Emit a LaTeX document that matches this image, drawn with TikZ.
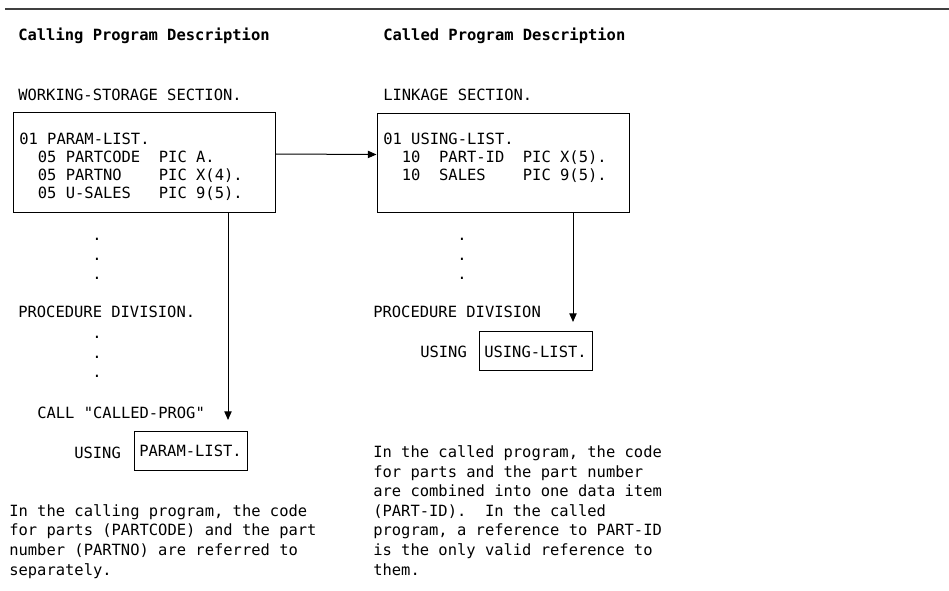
\documentclass[tikz,border=0pt]{standalone}
\usepackage{fontspec}
\setmonofont{DejaVu Sans Mono}
\usetikzlibrary{arrows.meta}
\newcommand\codefont{\ttfamily\fontsize{11.6}{13.7}\selectfont}
\newcommand\notefont{\ttfamily\fontsize{11.6}{14.7}\selectfont}
\begin{document}
\begin{tikzpicture}
  [x=0.75pt,y=-0.75pt,
   every node/.style={font=\codefont,inner sep=0pt,anchor=base west,align=left},
   databox/.style={draw,line width=0.75pt,anchor=center},
   argbox/.style={draw,line width=0.75pt,anchor=center,
     minimum width=84.75pt,minimum height=29.25pt},
   flow/.style={line width=0.75pt,-{Triangle[length=6.5pt,width=5.5pt]}}]
  \useasboundingbox (0,0) rectangle (949,591);

  % Linea superior
  \draw[line width=1.6pt,black!75] (5,9) -- (949,9);

  % Titulos
  \node[font=\codefont\bfseries] (calling) at (18,41) {Calling Program Description};
  \node[font=\codefont\bfseries] (called) at (383,41) {Called Program Description};

  % Programa que llama (base = ultima linea)
  \node (wssec) at (18,101) {WORKING-STORAGE SECTION.};
  \node[databox,minimum width=196.5pt,minimum height=75pt] (wsbox) at (144,163) {};
  \node (wslist) at (19,199) {01 PARAM-LIST.\\
    \ \ 05 PARTCODE\ \ PIC A.\\
    \ \ 05 PARTNO\ \ \ \ PIC X(4).\\
    \ \ 05 U-SALES\ \ \ PIC 9(5).};
  \node[anchor=base,font=\notefont] (wsdots) at (97,280) {.\\.\\.};
  \node (calproc) at (18,318) {PROCEDURE DIVISION.};
  \node[anchor=base,font=\notefont] (procdots) at (97,378) {.\\.\\.};
  \node (callstmt) at (37,418) {CALL "CALLED-PROG"};
  \node (callusing) at (74,458) {USING};
  \node[argbox] (parambox) at (190.5,450.5) {PARAM-LIST.};
  \node[font=\notefont] (callnote) at (9,575) {In the calling program, the code\\
    for parts (PARTCODE) and the part\\
    number (PARTNO) are referred to\\
    separately.};

  % Programa llamado
  \node (lksec) at (383,101) {LINKAGE SECTION.};
  \node[databox,minimum width=189pt,minimum height=74.25pt] (lkbox) at (503,163.5) {};
  \node (lklist) at (383,181) {01 USING-LIST.\\
    \ \ 10\ \ PART-ID\ \ PIC X(5).\\
    \ \ 10\ \ SALES\ \ \ \ PIC 9(5).};
  \node[anchor=base,font=\notefont] (lkdots) at (462,280) {.\\.\\.};
  \node (cldproc) at (373,318) {PROCEDURE DIVISION};
  \node (cldusing) at (420,358) {USING};
  \node[argbox] (usingbox) at (535.5,351.5) {USING-LIST.};
  \node[font=\notefont] (cldnote) at (373,575) {In the called program, the code\\
    for parts and the part number\\
    are combined into one data item\\
    (PART-ID).\ \ In the called\\
    program, a reference to PART-ID\\
    is the only valid reference to\\
    them.};

  % Flechas
  \coordinate (calltip) at (228,420);
  \coordinate (usingtip) at (573,322);
  \draw[flow] ([yshift=6.75pt]wsbox.east) -- ([yshift=6.75pt]lkbox.west);
  \draw[flow] (wsbox.south -| calltip) -- (calltip);
  \draw[flow] (lkbox.south -| usingtip) -- (usingtip);

\end{tikzpicture}
\end{document}
